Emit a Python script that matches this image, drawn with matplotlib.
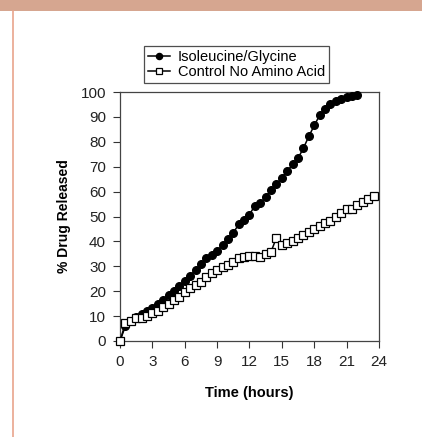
import matplotlib.pyplot as plt
from matplotlib.lines import Line2D
from matplotlib.patches import Rectangle

# Release data (time in hours, % drug released)
iso_time = [0, 0.5, 1, 1.5, 2, 2.5, 3, 3.5, 4, 4.5, 5, 5.5, 6, 6.5, 7, 7.5, 8, 8.5,
            9, 9.5, 10, 10.5, 11, 11.5, 12, 12.5, 13, 13.5, 14, 14.5, 15, 15.5,
            16, 16.5, 17, 17.5, 18, 18.5, 19, 19.5, 20, 20.5, 21, 21.5, 22]
iso_release = [0, 6.0, 8.0, 9.5, 11.0, 12.0, 13.2, 15.0, 16.6, 18.6, 20.2, 22.0,
               24.0, 26.3, 28.4, 31.0, 33.3, 34.5, 36.2, 38.5, 40.9, 43.5, 46.8,
               48.5, 50.8, 54.4, 55.4, 57.8, 60.6, 63.0, 65.6, 68.3, 70.9, 73.4,
               77.5, 82.2, 86.6, 90.6, 93.2, 95.2, 96.5, 97.3, 97.9, 98.5, 98.8]

ctrl_time = [0, 0.5, 1, 1.5, 2, 2.5, 3, 3.5, 4, 4.5, 5, 5.5, 6, 6.5, 7, 7.5, 8, 8.5,
             9, 9.5, 10, 10.5, 11, 11.5, 12, 12.5, 13, 13.5, 14, 14.5, 15, 15.5,
             16, 16.5, 17, 17.5, 18, 18.5, 19, 19.5, 20, 20.5, 21, 21.5, 22, 22.5,
             23, 23.5]
ctrl_release = [0, 7.1, 8.2, 9.1, 9.1, 10.0, 11.1, 12.2, 13.5, 14.9, 16.5, 17.8,
                19.5, 21.2, 22.4, 23.8, 25.6, 27.2, 28.6, 29.8, 30.5, 31.8, 33.2,
                33.9, 34.3, 34.3, 33.6, 34.8, 35.9, 41.5, 38.6, 39.2, 40.3, 41.5,
                42.6, 43.9, 45.0, 46.2, 47.3, 48.3, 49.9, 51.3, 53.0, 53.0, 54.6,
                55.7, 57.0, 58.4]

x_ticks = [0, 3, 6, 9, 12, 15, 18, 21, 24]
y_ticks = [0, 10, 20, 30, 40, 50, 60, 70, 80, 90, 100]

plt.rcParams['font.family'] = ['Liberation Sans', 'DejaVu Sans']

fig = plt.figure(figsize=(4.22, 4.37), dpi=100)

# page decoration: tan band on top and thin line on the left
fig.patches.append(Rectangle((0, 1 - 10.5 / 437), 1, 10.5 / 437, transform=fig.transFigure,
                             facecolor='#d6a690', edgecolor='none'))
fig.lines.append(Line2D([13 / 422, 13 / 422], [0, 1 - 10.5 / 437], transform=fig.transFigure,
                        color='#e9a48c', linewidth=1.2))

ax = fig.add_axes([120 / 422, 1 - 341 / 437, 259 / 422, 249 / 437])

ax.plot(iso_time, iso_release, color='black', linewidth=1.1, marker='o',
        markersize=5.5, markerfacecolor='black', markeredgecolor='black',
        label='Isoleucine/Glycine', clip_on=False, zorder=3)
ax.plot(ctrl_time, ctrl_release, color='black', linewidth=1.1, marker='s',
        markersize=5.3, markerfacecolor='white', markeredgecolor='black',
        markeredgewidth=0.9, label='Control No Amino Acid', clip_on=False, zorder=4)

ax.set_xlim(0, 24)
ax.set_ylim(0, 100)
ax.set_xticks(x_ticks)
ax.set_yticks(y_ticks)
ax.tick_params(direction='out', length=5, width=0.8, labelsize=11,
               colors='#333333', labelcolor='#222222', pad=5)
for s in ax.spines.values():
    s.set_color('#444444')
    s.set_linewidth(0.9)

ax.set_xlabel('Time (hours)', fontsize=10.5, fontweight='bold', labelpad=12)
ax.set_ylabel('% Drug Released', fontsize=10, fontweight='bold', labelpad=7)

leg = ax.legend(loc='lower center', bbox_to_anchor=(0.45, 1.035), frameon=True,
                fancybox=False, fontsize=10.5, handlelength=1.5, handletextpad=0.5,
                borderpad=0.3, labelspacing=0.05, borderaxespad=0,
                markerscale=0.8)
leg.get_frame().set_edgecolor('#222222')
leg.get_frame().set_linewidth(0.9)

fig.savefig('out.png', dpi=100)
